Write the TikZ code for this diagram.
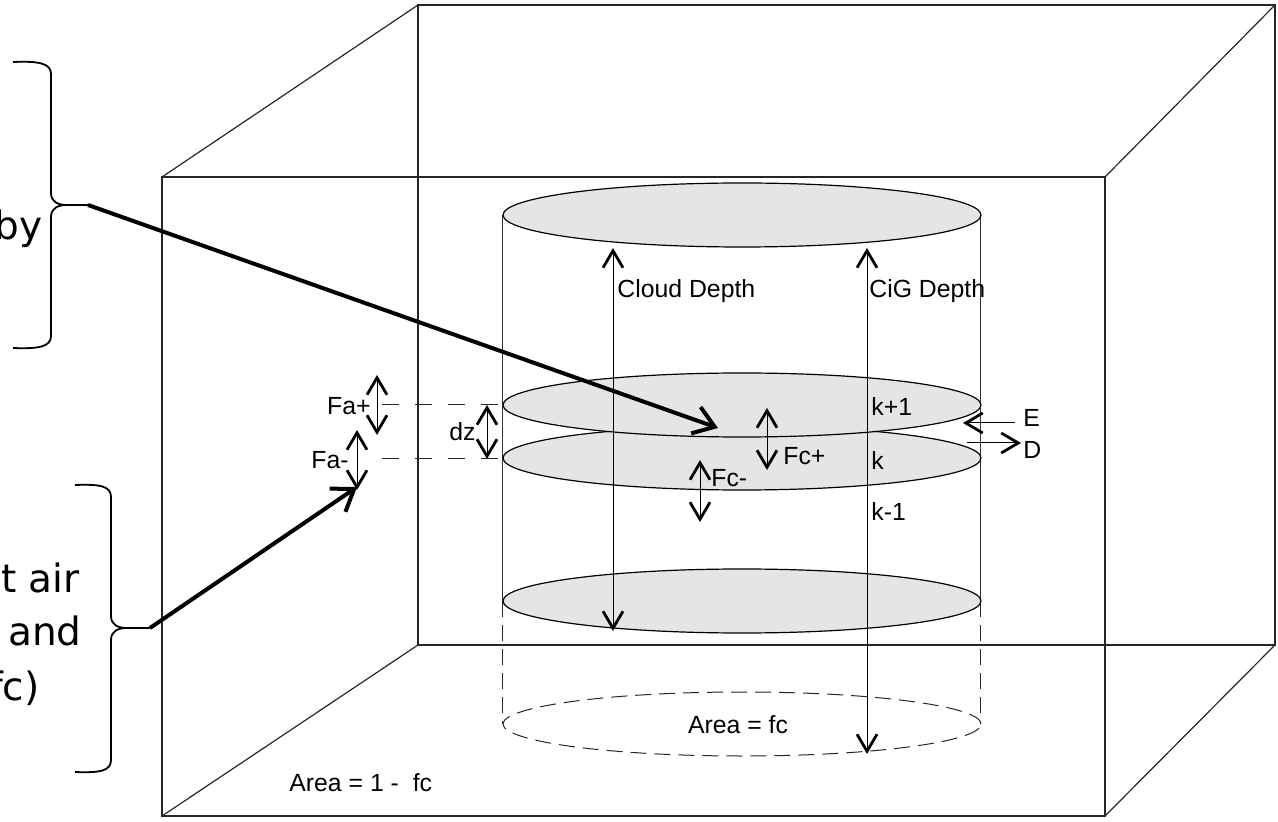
\documentclass[tikz,border=0pt]{standalone}
\usepackage{fontspec}
\setmainfont{Liberation Sans}
\newfontfamily\bigfont{DejaVu Sans}
\usetikzlibrary{arrows.meta}
\begin{document}
\begin{tikzpicture}[x=0.5pt,y=-0.5pt,
  boxline/.style={line width=0.6pt, draw=black!85},
  cylside/.style={line width=0.5pt, draw=black!80},
  disk/.style={line width=0.6pt, draw=black, fill=black!10},
  cutline/.style={line width=0.5pt, draw=black!85, dash pattern=on 8pt off 4pt},
  levelline/.style={line width=0.5pt, draw=black!85, dash pattern=on 8.5pt off 8pt},
  dimarrow/.style={line width=0.5pt, {Straight Barb[length=8.5pt,width=10pt,line width=1.4pt]}-{Straight Barb[length=8.5pt,width=10pt,line width=1.4pt]}},
  onearrow/.style={line width=0.5pt, -{Straight Barb[length=8.5pt,width=10pt,line width=1.4pt]}},
  bigarrow/.style={line width=2pt, -{Straight Barb[length=10pt,width=14pt,line width=2pt]}},
  bracestyle/.style={line width=0.9pt, draw=black},
  lbl/.style={font=\fontsize{12.4}{14}\selectfont, inner sep=0pt},
  bigtxt/.style={font=\bigfont\fontsize{19.5}{24}\selectfont, inner sep=0pt, anchor=base east}
]
\useasboundingbox (0,0) rectangle (1278,822);
\clip (0,0) rectangle (1278,822);

% ---- box ----
\draw[boxline] (418,5) rectangle (1275,645);
\draw[boxline] (162,177) -- (418,5);
\draw[boxline] (1105,177) -- (1275,5);
\draw[boxline] (162,816) -- (418,645);
\draw[boxline] (1105,816) -- (1275,645);
\draw[boxline] (162,177) rectangle (1105,816);

% ---- cylinder ----
\draw[cylside] (502,215) -- (502,601);
\draw[cylside] (980,215) -- (980,601);
\draw[cutline] (502,601) -- (502,724);
\draw[cutline] (980,601) -- (980,724);
\draw[cutline] (742,724) ellipse [x radius=119.5pt, y radius=16pt];
\draw[disk] (742,601) ellipse [x radius=119.5pt, y radius=16pt];
\draw[disk] (742,458) ellipse [x radius=119.5pt, y radius=16pt];
\draw[disk] (742,405) ellipse [x radius=119.5pt, y radius=16pt];
\draw[disk] (742,215) ellipse [x radius=119.5pt, y radius=16pt];

% ---- level lines ----
\coordinate (lvtopL) at (382,405);
\coordinate (lvtopR) at (502,405);
\coordinate (lvbotL) at (382,459);
\coordinate (lvbotR) at (502,459);
\draw[levelline] (lvtopL) -- (lvtopR);
\draw[levelline] (lvbotL) -- (lvbotR);

% ---- dimension arrows ----
\coordinate (cdTop) at (613,248);
\coordinate (cdBot) at (613,631);
\draw[dimarrow] (cdTop) -- (cdBot);
\node[lbl, anchor=west] (cdLbl) at (617,291) {Cloud Depth};

\coordinate (cgTop) at (867,248);
\coordinate (cgBot) at (867,754);
\draw[dimarrow] (cgTop) -- (cgBot);
\node[lbl, anchor=west] (cgLbl) at (869,291) {CiG Depth};

\coordinate (fapT) at (377,375);
\coordinate (fapB) at (377,435);
\draw[dimarrow] (fapT) -- (fapB);
\node[lbl, anchor=east] (fapLbl) at (371,406) {Fa+};

\coordinate (famT) at (357,430);
\coordinate (famB) at (357,490);
\draw[dimarrow] (famT) -- (famB);
\node[lbl, anchor=east] (famLbl) at (349,460) {Fa-};

\coordinate (dzT) at (487,405);
\coordinate (dzB) at (487,459);
\draw[dimarrow] (dzT) -- (dzB);
\node[lbl, anchor=east] (dzLbl) at (476,432) {dz};

\coordinate (fcpT) at (767,408);
\coordinate (fcpB) at (767,470);
\draw[dimarrow] (fcpT) -- (fcpB);
\node[lbl, anchor=west] (fcpLbl) at (783,456) {Fc+};

\coordinate (fcmT) at (700,460);
\coordinate (fcmB) at (700,522);
\draw[dimarrow] (fcmT) -- (fcmB);
\node[lbl, anchor=west] (fcmLbl) at (711,478) {Fc-};

\node[lbl, anchor=west] (kp) at (871,407) {k+1};
\node[lbl, anchor=west] (k0) at (871,461) {k};
\node[lbl, anchor=west] (km) at (871,512) {k-1};

\coordinate (eS) at (1015,423);
\coordinate (eE) at (963,423);
\draw[onearrow] (eS) -- (eE);
\node[lbl, anchor=west] (eLbl) at (1023,418) {E};

\coordinate (dS) at (967,443);
\coordinate (dE) at (1021,443);
\draw[onearrow] (dS) -- (dE);
\node[lbl, anchor=west] (dLbl) at (1023,450) {D};

\node[lbl] (areaC) at (738,725) {Area = fc};
\node[lbl, anchor=west] (areaE) at (289,783) {Area = 1 -\ \ fc};

% ---- braces ----
\draw[bracestyle] (13,62) .. controls (38,61) and (51,63) .. (51,74) -- (51,193)
  .. controls (51,202) and (58,205) .. (67,205)
  .. controls (58,205) and (51,208) .. (51,217) -- (51,336)
  .. controls (51,347) and (38,349) .. (13,348);
\coordinate (br1) at (67,205);
\coordinate (br1e) at (88,205);
\draw[bracestyle] (br1) -- (br1e);

\draw[bracestyle] (75,485) .. controls (100,484) and (111,486) .. (111,497) -- (111,616)
  .. controls (111,625) and (118,628) .. (127,628)
  .. controls (118,628) and (111,631) .. (111,640) -- (111,760)
  .. controls (111,771) and (100,773) .. (75,772);
\coordinate (br2) at (127,628);
\coordinate (br2e) at (150,628);
\draw[bracestyle] (br2) -- (br2e);

\node[bigtxt] (t1) at (43,240) {by};
\node[bigtxt] (t2) at (80,592) {t air};
\node[bigtxt] (t3) at (82,645) {and};
\node[bigtxt] (t4) at (40,700) {fc)};

% ---- thick arrows ----
\coordinate (h1) at (718,428);
\coordinate (h2) at (357,487);
\draw[bigarrow] (br1e) -- (h1);
\draw[bigarrow] (br2e) -- (h2);
\end{tikzpicture}
\end{document}
